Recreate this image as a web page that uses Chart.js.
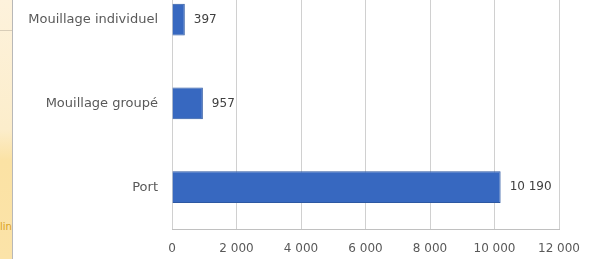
<!DOCTYPE html>
<html>
<head>
<meta charset="utf-8">
<script src="https://cdn.jsdelivr.net/npm/chart.js@4"></script>
<style>
html,body{margin:0;padding:0;width:594px;height:259px;overflow:hidden;background:#fff;}
#strip{position:absolute;left:0;top:0;width:12px;height:259px;background:linear-gradient(#fdf2dc 0%,#fcedcb 50%,#fbe2a4 62%,#fbe3a8 100%);border-right:1px solid #b8b8b8;}
#strip i{position:absolute;left:0;top:30px;width:12px;height:1px;background:#d8cdb8;}
#strip span{position:absolute;left:0;top:221px;font:10px "DejaVu Sans",sans-serif;color:#d9a020;}
#wrap{position:absolute;left:13px;top:-44px;width:581px;height:303px;}
</style>
</head>
<body>
<div id="strip"><i></i><span>lin</span></div>
<div id="wrap"><canvas id="c" width="581" height="303"></canvas></div>
<script>
const categories = ["Mouillage individuel", "Mouillage groupé", "Port"];
const values = [397, 957, 10190];
const tickValues = [0, 2000, 4000, 6000, 8000, 10000, 12000];

function fmt(v){ return String(v).replace(/\B(?=(\d{3})+(?!\d))/g, " "); }

const valueLabels = {
  id: "valueLabels",
  afterDatasetsDraw(chart){
    const ctx = chart.ctx;
    const meta = chart.getDatasetMeta(0);
    ctx.save();
    ctx.font = '12px "DejaVu Sans", sans-serif';
    ctx.fillStyle = "#404040";
    ctx.textBaseline = "middle";
    ctx.textAlign = "left";
    meta.data.forEach((bar, i) => {
      ctx.fillText(fmt(values[i]), bar.x + 9, bar.y);
    });
    ctx.restore();
  }
};

new Chart(document.getElementById("c"), {
  type: "bar",
  data: {
    labels: categories,
    datasets: [{
      data: values,
      backgroundColor: "#3768c0",
      borderColor: "#2d58a2",
      borderWidth: 1,
      categoryPercentage: 0.76,
      barPercentage: 0.5
    }]
  },
  options: {
    indexAxis: "y",
    responsive: false,
    animation: false,
    layout: { padding: { left: 0, right: 35, top: 0, bottom: 0 } },
    plugins: { legend: { display: false }, tooltip: { enabled: false } },
    scales: {
      x: {
        min: 0, max: 12000,
        afterBuildTicks(scale){ scale.ticks = tickValues.map(v => ({ value: v })); },
        afterFit(scale){ scale.height = 30; },
        grid: { color: "#d0d0d0", drawTicks: false, lineWidth: 1 },
        border: { display: true, color: "#c0c0c0" },
        ticks: {
          padding: 13,
          color: "#595959",
          font: { family: "DejaVu Sans", size: 12 },
          callback: v => fmt(v),
          maxRotation: 0
        }
      },
      y: {
        afterFit(scale){ scale.width = 159; },
        grid: { display: false, drawTicks: false },
        border: { display: false },
        ticks: {
          padding: 14,
          color: "#595959",
          font: { family: "DejaVu Sans", size: 13 }
        }
      }
    }
  },
  plugins: [valueLabels]
});
</script>
</body>
</html>
